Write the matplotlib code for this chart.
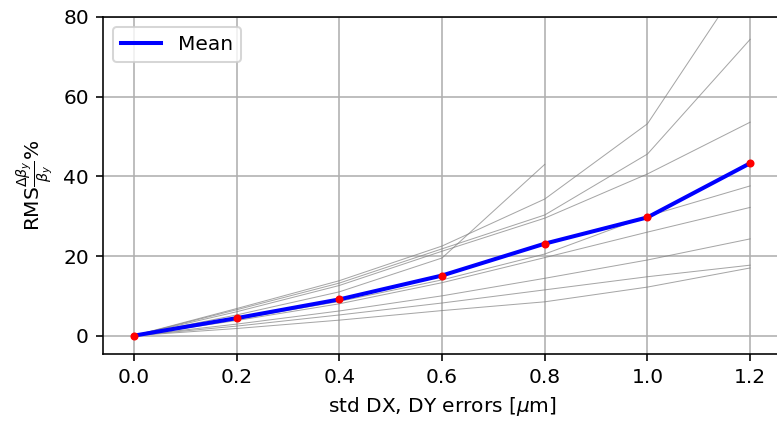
"""
Figure: RMS beta-beating vs DX, DY misalignment errors
"""
# --------------------------------------------------------------------------------
# 1.Import modular
# --------------------------------------------------------------------------------
import matplotlib
matplotlib.use("Agg")
import matplotlib.pyplot as plt
import numpy as np


# --------------------------------------------------------------------------------
# 2.Define variable
# --------------------------------------------------------------------------------
ERROR_STD = [0.0, 0.2, 0.4, 0.6, 0.8, 1.0, 1.2]

# one list per seed, nan where the seed did not finish
SEED_BEATING = [
    [0.0, 6.8, 13.8, 22.5, 34.3, 53.2, 92.0],
    [0.0, 6.5, 13.2, 21.8, 30.3, 45.6, 74.4],
    [0.0, 6.0, 12.6, 21.2, 29.5, 40.6, 53.6],
    [0.0, 5.2, 11.0, 19.5, 43.0, np.nan, np.nan],
    [0.0, 4.1, 8.6, 14.0, 20.5, 30.0, 37.6],
    [0.0, 3.8, 8.0, 13.3, 19.6, 26.0, 32.2],
    [0.0, 2.9, 6.2, 10.0, 14.4, 19.0, 24.3],
    [0.0, 2.4, 5.2, 8.2, 11.5, 14.8, 17.7],
    [0.0, 1.8, 3.9, 6.3, 8.5, 12.2, 17.0],
]

MEAN_BEATING = [0.0, 4.4, 9.1, 15.1, 23.1, 29.7, 43.3]

# plot
PLOT_DPI = 145
PLOT_X_SIZE = 777 / PLOT_DPI
PLOT_Y_SIZE = 421 / PLOT_DPI


# --------------------------------------------------------------------------------
# 3.Define function
# --------------------------------------------------------------------------------
def draw_beating(x, seeds, mean):
    fig = plt.figure(figsize=(PLOT_X_SIZE, PLOT_Y_SIZE), dpi=PLOT_DPI, facecolor='w')
    ax = fig.add_axes([103 / 777, 67 / 421, 678 / 777, 337 / 421])

    for seed in seeds:
        ax.plot(x, seed, color="gray", alpha=0.7, linewidth=0.5)

    ax.plot(x, mean, color="blue", linewidth=2, label="Mean", zorder=3)
    ax.plot(x, mean, "r.", zorder=4)

    ax.grid(True)
    ax.set_xlim(-0.06, 1.26)
    ax.set_ylim(-4.6, 80)
    ax.set_xticks(x)
    ax.set_yticks([0, 20, 40, 60, 80])
    ax.set_xlabel(r"std DX, DY errors [$\mu$m]")
    ax.set_ylabel(r"RMS$\frac{\Delta\beta_y}{\beta_y}$%")
    ax.legend(loc="upper left")

    fig.savefig("out.png", dpi=PLOT_DPI)
    plt.close(fig)


# --------------------------------------------------------------------------------
# 4.Main function
# --------------------------------------------------------------------------------
if __name__ == '__main__':
    draw_beating(ERROR_STD, SEED_BEATING, MEAN_BEATING)
